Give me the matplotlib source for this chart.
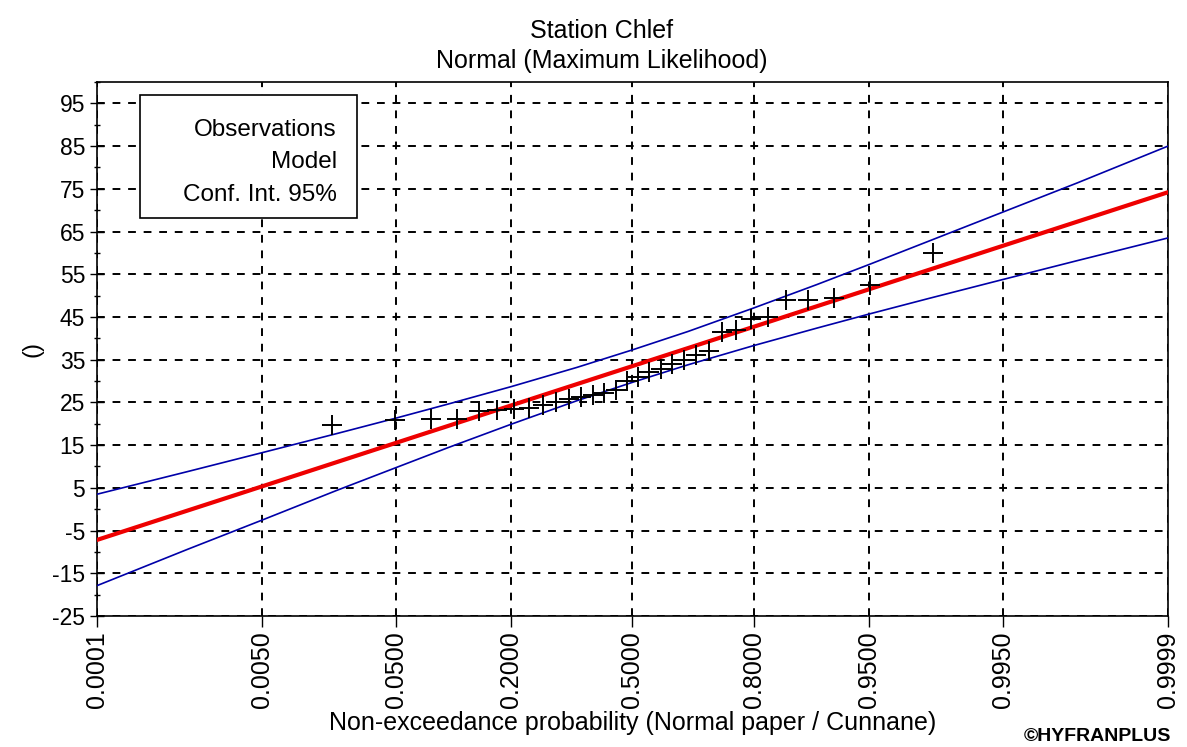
from statistics import NormalDist
import numpy as np
import matplotlib
matplotlib.use("Agg")
import matplotlib.pyplot as plt
from matplotlib.patches import Rectangle

plt.rcParams['font.family'] = ['Liberation Sans', 'DejaVu Sans']
plt.rcParams['axes.unicode_minus'] = False

# Probability ticks on the normal paper
tick_probs = [0.0001, 0.005, 0.05, 0.2, 0.5, 0.8, 0.95, 0.995, 0.9999]
tick_labels = ['0.0001', '0.0050', '0.0500', '0.2000', '0.5000',
               '0.8000', '0.9500', '0.9950', '0.9999']

# Observations (Cunnane plotting positions)
obs_prob = [0.0186, 0.0497, 0.0807, 0.1118, 0.1429, 0.1739, 0.2050, 0.2360,
            0.2671, 0.2981, 0.3292, 0.3602, 0.3913, 0.4224, 0.4534, 0.4845,
            0.5155, 0.5466, 0.5776, 0.6087, 0.6398, 0.6708, 0.7019, 0.7329,
            0.7640, 0.7950, 0.8261, 0.8571, 0.8882, 0.9193, 0.9503, 0.9814]
obs_val = [19.7, 20.9, 21.0, 21.0, 23.0, 23.3, 23.5, 23.8,
           24.4, 25.2, 25.8, 26.3, 26.8, 27.2, 28.0, 30.0,
           31.0, 32.1, 32.8, 34.0, 35.0, 36.0, 37.0, 41.5,
           41.9, 44.6, 45.0, 48.9, 49.0, 49.4, 52.5, 59.9]

# Fitted normal model
model_prob = [0.0001, 0.005, 0.05, 0.2, 0.5, 0.8, 0.95, 0.995, 0.9999]
model_val = [-7.2, 5.3, 15.5, 24.3, 33.5, 42.7, 51.5, 61.7, 74.2]

# 95% confidence interval
ci_prob = [0.0001, 0.001, 0.005, 0.02, 0.05, 0.1, 0.2, 0.35, 0.5,
           0.65, 0.8, 0.9, 0.95, 0.98, 0.995, 0.999, 0.9999]
ci_upper = [3.5, 8.8, 13.2, 17.7, 21.3, 24.6, 28.7, 33.2, 37.3,
            41.6, 47.1, 52.6, 57.3, 62.7, 69.6, 76.4, 85.0]
ci_lower = [-17.9, -9.4, -2.6, 4.4, 9.7, 14.4, 19.9, 25.4, 29.7,
            33.8, 38.3, 42.4, 45.7, 49.3, 53.8, 58.2, 63.5]

# normal probability scale
nd = NormalDist()
_ppf = np.vectorize(nd.inv_cdf, otypes=[float])
_cdf = np.vectorize(nd.cdf, otypes=[float])


def forward(p):
    return _ppf(np.clip(np.asarray(p, dtype=float), 1e-12, 1 - 1e-12))


def inverse(z):
    return _cdf(np.asarray(z, dtype=float))


fig = plt.figure(figsize=(11.87, 7.47), dpi=100)
ax = fig.add_axes([0.0817, 0.1754, 0.9023, 0.7148])
ax.set_xscale('function', functions=(forward, inverse))

ax.plot(ci_prob, ci_upper, color='#0000a8', lw=1.2, zorder=3)
ax.plot(ci_prob, ci_lower, color='#0000a8', lw=1.2, zorder=3)
ax.plot(model_prob, model_val, color='#ee0000', lw=3, zorder=4)
ax.plot(obs_prob, obs_val, ls='none', marker='+', color='black',
        markersize=14, markeredgewidth=1.4, zorder=5)

ax.set_xlim(0.0001, 0.9999)
ax.set_ylim(-25, 100)
ax.set_xticks(tick_probs)
ax.set_xticklabels(tick_labels, rotation=90)
ax.xaxis.set_minor_locator(plt.NullLocator())
ax.set_yticks(np.arange(-25, 96, 10))
ax.set_yticks(np.arange(-20, 101, 10), minor=True)
ax.tick_params(axis='x', labelsize=18, colors='black', direction='out', length=8, width=1, pad=3)
ax.tick_params(axis='y', labelsize=16.5, colors='black')
ax.tick_params(axis='y', which='major', direction='inout', length=10, width=1)
ax.tick_params(axis='y', which='minor', direction='inout', length=5, width=1)
ax.grid(True, which='major', color='black', linestyle=(0, (4, 4)), lw=1.4)
for s in ax.spines.values():
    s.set_linewidth(1.2)

ax.set_xlabel('Non-exceedance probability (Normal paper / Cunnane)', fontsize=18, labelpad=2)
ax.set_ylabel('()', fontsize=17, labelpad=6)

# legend box (text only)
ax.add_patch(Rectangle((0.040, 0.745), 0.203, 0.231, transform=ax.transAxes,
                       facecolor='white', edgecolor='black', lw=1.2, zorder=6))
for txt, yy in [('Observations', 0.910), ('Model', 0.850), ('Conf. Int. 95%', 0.788)]:
    ax.text(0.224, yy, txt, transform=ax.transAxes, ha='right', va='center',
            fontsize=17.5, zorder=7)

fig.text(0.507, 0.958, 'Station Chlef', ha='center', va='center', fontsize=18)
fig.text(0.507, 0.918, 'Normal (Maximum Likelihood)', ha='center', va='center', fontsize=18)
fig.text(0.987, 0.014, '©HYFRANPLUS', ha='right', va='center', fontsize=14, fontweight='bold')

fig.savefig('out.png', dpi=100, facecolor='white')
